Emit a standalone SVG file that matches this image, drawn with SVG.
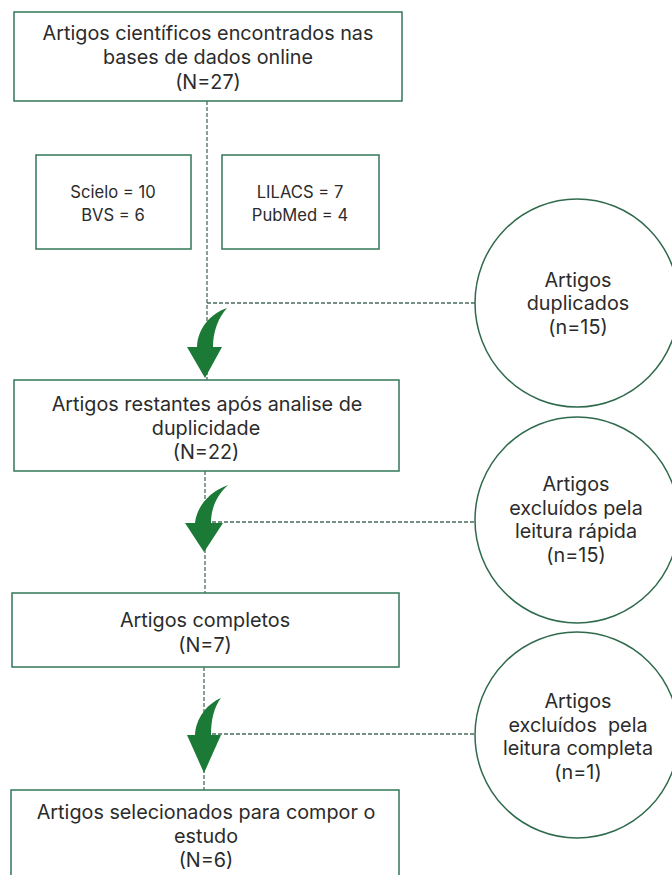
<svg xmlns="http://www.w3.org/2000/svg" width="672" height="875" viewBox="0 0 672 875">
<style>
.box{fill:#fff;stroke:#3f7f62;stroke-width:1.6}
.circ{fill:#fff;stroke:#2f6a4c;stroke-width:1.5}
.t{font-family:"Inter","Noto Sans","Liberation Sans",sans-serif;font-size:19.8px;fill:#2b2b2b;text-anchor:middle}
.s{font-size:16.6px}
.dash{fill:none;stroke:#4a6e5b;stroke-width:1.3;stroke-dasharray:4 2}
.arrow{fill:#1b7a36}
</style>
<rect width="672" height="875" fill="#fff"/>
<g id="connectors">
<path class="dash" d="M207,101 V380"/>
<path class="dash" d="M207,303 H475"/>
<path class="dash" d="M205,471 V593"/>
<path class="dash" d="M212,522 H475"/>
<path class="dash" d="M204,667 V790"/>
<path class="dash" d="M212,734 H476"/>
<path class="arrow" d="M227,308 C210,314 198,328 197,347 L187,347 L205,378 L222,347 L213,347 C213,332 218,318 227,308 Z"/>
<path class="arrow" d="M228,485 C211,491 197,505 195,523 L185,523 L204,552 L223,523 L211,523 C211,508 217,495 228,485 Z"/>
<path class="arrow" d="M221,698 C207,704 196,718 195,735 L187,735 L204,773 L221,735 L211,735 C211,720 214,707 221,698 Z"/>
</g>
<g id="n-found">
<rect class="box" x="14" y="12" width="388" height="89"/>
<text class="t" x="208" y="40">Artigos científicos encontrados nas</text>
<text class="t" x="208" y="64">bases de dados online</text>
<text class="t" x="208" y="89">(N=27)</text>
</g>
<g id="n-scielo">
<rect class="box" x="36" y="155" width="155" height="94"/>
<text class="t s" x="113" y="198">Scielo = 10</text>
<text class="t s" x="113" y="221">BVS = 6</text>
</g>
<g id="n-lilacs">
<rect class="box" x="222" y="155" width="157" height="94"/>
<text class="t s" x="300" y="198">LILACS = 7</text>
<text class="t s" x="300" y="221">PubMed = 4</text>
</g>
<g id="n-dup">
<ellipse class="circ" cx="577" cy="303" rx="102" ry="104"/>
<text class="t" x="578" y="287">Artigos</text>
<text class="t" x="578" y="310">duplicados</text>
<text class="t" x="578" y="334">(n=15)</text>
</g>
<g id="n-remaining">
<rect class="box" x="14" y="380" width="385" height="91"/>
<text class="t" x="207" y="411">Artigos restantes após analise de</text>
<text class="t" x="206" y="435">duplicidade</text>
<text class="t" x="206" y="459">(N=22)</text>
</g>
<g id="n-excl-fast">
<ellipse class="circ" cx="577" cy="520" rx="102" ry="103"/>
<text class="t" x="576" y="491">Artigos</text>
<text class="t" x="576" y="515">excluídos pela</text>
<text class="t" x="576" y="538">leitura rápida</text>
<text class="t" x="576" y="562">(n=15)</text>
</g>
<g id="n-complete">
<rect class="box" x="12" y="593" width="387" height="74"/>
<text class="t" x="205" y="627">Artigos completos</text>
<text class="t" x="205" y="652">(N=7)</text>
</g>
<g id="n-excl-full">
<ellipse class="circ" cx="577" cy="735" rx="102" ry="103"/>
<text class="t" x="578" y="708">Artigos</text>
<text class="t" x="578" y="732" xml:space="preserve">excluídos  pela</text>
<text class="t" x="578" y="755">leitura completa</text>
<text class="t" x="578" y="779">(n=1)</text>
</g>
<g id="n-selected">
<rect class="box" x="11" y="790" width="388" height="95"/>
<text class="t" x="206" y="819">Artigos selecionados para compor o</text>
<text class="t" x="206" y="843">estudo</text>
<text class="t" x="206" y="867">(N=6)</text>
</g>
</svg>
